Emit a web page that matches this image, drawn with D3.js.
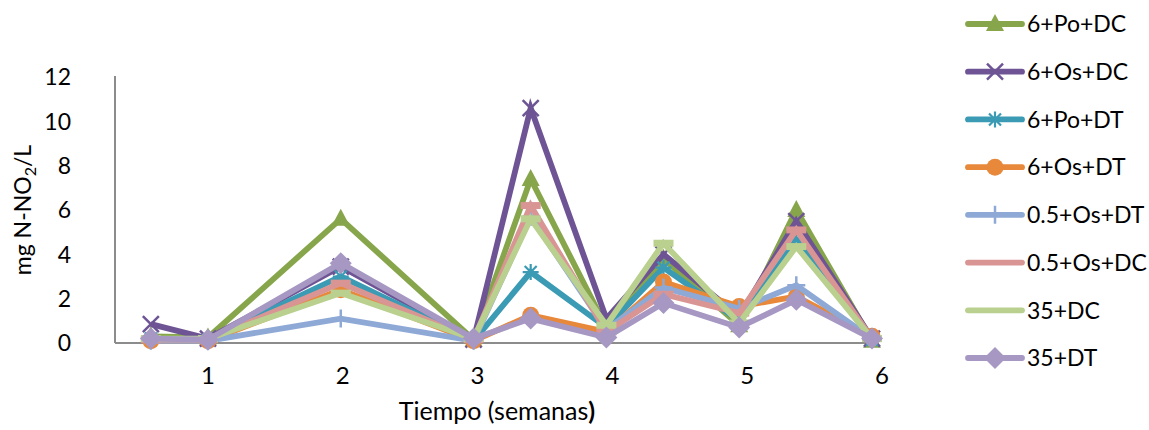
<!DOCTYPE html>
<html><head><meta charset="utf-8">
<script src="https://cdn.jsdelivr.net/npm/d3@7"></script>
<style>
html,body{margin:0;padding:0;background:#fff;}
text{font-family:Lato,"Open Sans",sans-serif;fill:#000;}
</style></head>
<body><svg id="c" width="1149" height="430"></svg>
<script>
// ---- data ----
const weeks = [0.57, 1, 2, 3, 3.43, 4, 4.43, 5, 5.43, 6];
const seriesNames = ["6+Po+DC","6+Os+DC","6+Po+DT","6+Os+DT","0.5+Os+DT","0.5+Os+DC","35+DC","35+DT"];
const v_6PoDC  = [0.3, 0.25, 5.6, 0.15, 7.4, 0.7, 3.8, 0.8, 6.0, 0.1];
const v_6OsDC  = [0.85, 0.2, 3.45, 0.15, 10.6, 1.1, 4.0, 1.2, 5.5, 0.2];
const v_6PoDT  = [0.2, 0.15, 3.0, 0.1, 3.2, 0.7, 3.4, 1.0, 4.65, 0.15];
const v_6OsDT  = [0.1, 0.1, 2.4, 0.1, 1.25, 0.5, 2.75, 1.65, 2.1, 0.3];
const v_05OsDT = [0.1, 0.1, 1.1, 0.1, 5.7, 0.6, 2.5, 1.55, 2.6, 0.2];
const v_05OsDC = [0.15, 0.15, 2.7, 0.15, 6.2, 0.5, 2.2, 1.35, 5.1, 0.2];
const v_35DC   = [0.2, 0.2, 2.25, 0.2, 5.6, 0.8, 4.5, 0.9, 4.35, 0.2];
const v_35DT   = [0.2, 0.15, 3.6, 0.2, 1.1, 0.25, 1.8, 0.7, 1.95, 0.2];
const xTicks = [1, 2, 3, 4, 5, 6];
const yTicks = [0, 2, 4, 6, 8, 10, 12];
const xTitle = "Tiempo (semanas";
const yTitle = "mg N-NO";

// ---- styles ----
const allValues = [v_6PoDC, v_6OsDC, v_6PoDT, v_6OsDT, v_05OsDT, v_05OsDC, v_35DC, v_35DT];
const colors = ["#87A64B","#6E5494","#3B9BB4","#E8883A","#8EA9D5","#D99594","#B9D08F","#A698C3"];
const markers = ["triangle","x","star","circle","plus","dash","dash","diamond"];

const svg = d3.select("#c");
svg.append("rect").attr("width",1149).attr("height",430).attr("fill","#fff");

const x = d3.scaleLinear().domain([0.3, 6]).range([115, 872]);
const y = d3.scaleLinear().domain([0, 12]).range([343, 77]);

// axes lines
svg.append("line").attr("x1",x.range()[0]).attr("x2",x.range()[1]+2).attr("y1",y(0)).attr("y2",y(0))
  .attr("stroke","#8c8c8c").attr("stroke-width",2);
svg.append("line").attr("x1",x.range()[0]).attr("x2",x.range()[0]).attr("y1",y(0)).attr("y2",y(12)-1)
  .attr("stroke","#8c8c8c").attr("stroke-width",2);

// tick labels
svg.selectAll("text.yt").data(yTicks).join("text").attr("class","yt")
  .attr("x",71).attr("y",d=>y(d)).attr("dy","0.36em").attr("text-anchor","end")
  .attr("font-size",23).text(d=>d);
svg.selectAll("text.xt").data(xTicks).join("text").attr("class","xt")
  .attr("x",d=>x(d)+ (d-1)*2).attr("y",384).attr("text-anchor","middle")
  .attr("font-size",24).text(d=>d);

// axis titles
const xt = svg.append("text").attr("x",497).attr("y",420).attr("text-anchor","middle").attr("font-size",25);
xt.append("tspan").text(xTitle);
xt.append("tspan").attr("font-weight","bold").text(")");
const yt = svg.append("text").attr("transform","translate(31,210) rotate(-90)").attr("text-anchor","middle").attr("font-size",23);
yt.append("tspan").text(yTitle);
yt.append("tspan").attr("font-size",16).attr("dy",5).text("2");
yt.append("tspan").attr("dy",-5).text("/L");

function drawMarker(g, type, color, inLegend) {
  const s = 8;
  if (type === "triangle") {
    g.append("path").attr("d","M0,-10L9,7L-9,7Z").attr("fill",color);
  } else if (type === "x") {
    g.append("path").attr("d",`M${-s},${-s}L${s},${s}M${-s},${s}L${s},${-s}`).attr("stroke",color).attr("stroke-width",2.5).attr("fill","none");
  } else if (type === "star") {
    g.append("path").attr("d",`M0,${-s}L0,${s}M${-s},0L${s},0M${-s*0.75},${-s*0.75}L${s*0.75},${s*0.75}M${-s*0.75},${s*0.75}L${s*0.75},${-s*0.75}`)
      .attr("stroke",color).attr("stroke-width",2.2).attr("fill","none");
  } else if (type === "circle") {
    g.append("circle").attr("r",8.5).attr("fill",color);
  } else if (type === "plus") {
    g.append("path").attr("d",`M0,${-s-1}L0,${s+1}M${-s-1},0L${s+1},0`).attr("stroke",color).attr("stroke-width",2.5).attr("fill","none");
  } else if (type === "dash") {
    if (!inLegend) g.append("rect").attr("x",-10).attr("y",-3.5).attr("width",20).attr("height",7).attr("fill",color);
  } else if (type === "diamond") {
    g.append("path").attr("d","M0,-11L11,0L0,11L-11,0Z").attr("fill",color);
  }
}

const line = d3.line().x((d,i)=>x(weeks[i])).y(d=>y(d));
allValues.forEach((vals, si) => {
  const g = svg.append("g");
  g.append("path").attr("d", line(vals)).attr("fill","none").attr("stroke",colors[si])
    .attr("stroke-width",5.8).attr("stroke-linejoin","miter").attr("stroke-miterlimit",10);
  vals.forEach((v,i) => {
    drawMarker(g.append("g").attr("transform",`translate(${x(weeks[i])},${y(v)})`), markers[si], colors[si], false);
  });
});

// legend
const ly = d3.scaleLinear().domain([0, 7]).range([24, 358]);
seriesNames.forEach((name, si) => {
  const g = svg.append("g").attr("transform",`translate(0,${ly(si)})`);
  g.append("line").attr("x1",968).attr("x2",1022).attr("y1",0).attr("y2",0)
    .attr("stroke",colors[si]).attr("stroke-width",5.8).attr("stroke-linecap","round");
  drawMarker(g.append("g").attr("transform","translate(995,0)"), markers[si], colors[si], true);
  g.append("text").attr("x",1027).attr("y",0).attr("dy","0.36em").attr("font-size",23).text(name);
});
</script></body></html>
